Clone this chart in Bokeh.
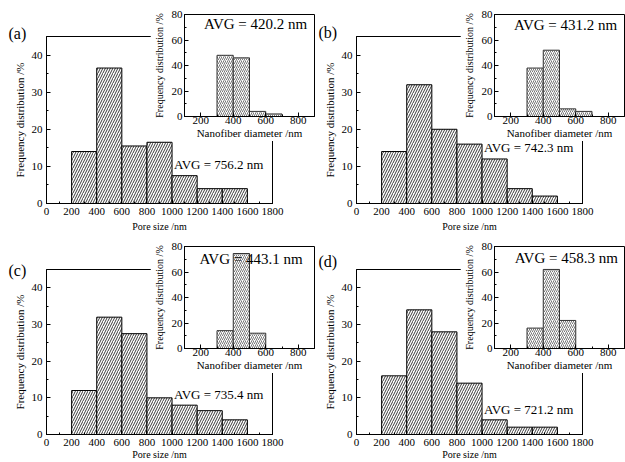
from bokeh.plotting import figure
from bokeh.models import Range1d, Label, GridBox, SingleIntervalTicker
from bokeh.embed import file_html
from bokeh.resources import INLINE

# ---------------- data ----------------
pore_left = [200, 400, 600, 800, 1000, 1200, 1400]
pore_right = [400, 600, 800, 1000, 1200, 1400, 1600]
pore_a = [14, 36.5, 15.5, 16.5, 7.5, 4, 4]
pore_b = [14, 32, 20, 16, 12, 4, 2]
pore_c = [12, 32, 27.5, 10, 8, 6.5, 4]
pore_d = [16, 34, 28, 14, 4, 2, 2]

fiber_left = [300, 400, 500, 600]
fiber_right = [400, 500, 600, 700]
fiber_a = [48, 46, 4, 2]
fiber_b = [38, 52, 6, 4]
fiber_c = [14, 74.5, 12, 0]
fiber_d = [16, 62, 22, 0]

avg_pore = [756.2, 742.3, 735.4, 721.2]
avg_fiber = [420.2, 431.2, 443.1, 458.3]
panel_tags = ["(a)", "(b)", "(c)", "(d)"]

pore_title = "Pore size /nm"
fiber_title = "Nanofiber diameter /nm"
freq_title = "Frequency distribution /%"

FONT = "Liberation Serif"


def style_axes(p, xint, yint, label_px, standoff):
    for ax in (p.xaxis[0], p.yaxis[0]):
        ax.major_tick_in = 4
        ax.major_tick_out = 0
        ax.minor_tick_in = 2
        ax.minor_tick_out = 0
        ax.axis_line_color = "black"
        ax.major_tick_line_color = "black"
        ax.minor_tick_line_color = "black"
        ax.major_label_text_font = FONT
        ax.major_label_text_font_size = label_px
        ax.major_label_text_color = "black"
        ax.major_label_standoff = standoff
        ax.axis_label_text_font = FONT
        ax.axis_label_text_font_style = "normal"
        ax.axis_label_text_color = "black"
    p.xaxis[0].ticker = SingleIntervalTicker(interval=xint, num_minor_ticks=2)
    p.yaxis[0].ticker = SingleIntervalTicker(interval=yint, num_minor_ticks=2)
    p.grid.visible = False
    p.outline_line_color = "black"
    p.outline_line_alpha = 1
    p.outline_line_width = 1
    p.background_fill_color = "white"
    p.border_fill_color = "white"


def main_panel(heights, avg, tag, tag_standoff, avg_y, height, bottom, title_standoff):
    p = figure(width=280, height=height, x_range=Range1d(0, 1800), y_range=Range1d(0, 45),
               output_backend="svg", toolbar_location=None, frame_align=False,
               min_border_left=38, min_border_right=16, min_border_top=28,
               min_border_bottom=bottom)
    p.quad(left=pore_left, right=pore_right, bottom=0, top=heights,
           fill_color="white", line_color="black", line_width=1,
           hatch_pattern="/", hatch_scale=5, hatch_weight=0.9, hatch_color="#222222")
    style_axes(p, 200, 10, "11px", 4)
    p.yaxis[0].axis_label = freq_title
    p.yaxis[0].axis_label_text_font_size = "11px"
    p.yaxis[0].axis_label_standoff = 3
    p.xaxis[0].axis_label = pore_title
    p.xaxis[0].axis_label_text_font_size = "10px"
    p.xaxis[0].axis_label_standoff = title_standoff
    p.title.text = tag
    p.title.align = "left"
    p.title.offset = -38
    p.title.standoff = tag_standoff
    p.title.text_font = FONT
    p.title.text_font_size = "16px"
    p.title.text_font_style = "normal"
    p.title.text_color = "black"
    p.add_layout(Label(x=1015, y=avg_y, text=f"AVG = {avg} nm", text_align="left",
                       text_baseline="middle", text_font=FONT, text_font_size="13px",
                       text_color="black"))
    return p


def inset_panel(heights, avg, avg_x, avg_y):
    q = figure(width=165, height=133, x_range=Range1d(100, 900), y_range=Range1d(0, 80),
               title=None, output_backend="svg", toolbar_location=None, frame_align=False,
               min_border_left=29, min_border_right=1, min_border_top=6,
               min_border_bottom=25)
    q.quad(left=fiber_left, right=fiber_right, bottom=0, top=heights,
           fill_color="white", line_color="#333333", line_width=1,
           hatch_pattern="/", hatch_scale=4, hatch_weight=0.8, hatch_color="#555555")
    style_axes(q, 200, 20, "11px", 2)
    q.xaxis[0].major_label_standoff = 0
    q.yaxis[0].axis_label = freq_title
    q.yaxis[0].axis_label_text_font_size = "10px"
    q.yaxis[0].axis_label_standoff = 4
    q.xaxis[0].axis_label = fiber_title
    q.xaxis[0].axis_label_text_font_size = "11px"
    q.xaxis[0].axis_label_standoff = 0
    q.add_layout(Label(x=avg_x, y=avg_y, text=f"AVG = {avg} nm", text_align="left",
                       text_baseline="middle", text_font=FONT, text_font_size="15px",
                       text_color="black"))
    return q


mains = [
    main_panel(pore_a, avg_pore[0], panel_tags[0], -10, 10.5, 227, 32, 3),
    main_panel(pore_b, avg_pore[1], panel_tags[1], -9, 15.2, 227, 32, 3),
    main_panel(pore_c, avg_pore[2], panel_tags[2], -18, 11.0, 221, 26, 0),
    main_panel(pore_d, avg_pore[3], panel_tags[3], 0, 6.7, 221, 26, 0),
]
insets = [
    inset_panel(fiber_a, avg_fiber[0], 220, 72.5),
    inset_panel(fiber_b, avg_fiber[1], 220, 71.5),
    inset_panel(fiber_c, avg_fiber[2], 192, 70.0),
    inset_panel(fiber_d, avg_fiber[3], 224, 71.0),
]

# placement of each canvas on the page (x, y) in pixels
main_pos = [(8, 8), (318, 8), (8, 241), (318, 241)]
inset_pos = [(150, 8), (460, 8), (150, 240), (460, 240)]

items = []
for f, (x, y) in zip(mains, main_pos):
    items.append((f, x, y, f.width, f.height))
for f, (x, y) in zip(insets, inset_pos):
    items.append((f, x, y, f.width, f.height))

xs = sorted({0} | {v for _, x, _, w, _ in items for v in (x, x + w)})
ys = sorted({0} | {v for _, _, y, _, h in items for v in (y, y + h)})
cols = [f"{b - a}px" for a, b in zip(xs, xs[1:])]
rows = [f"{b - a}px" for a, b in zip(ys, ys[1:])]
children = []
for f, x, y, w, h in items:
    r0, c0 = ys.index(y), xs.index(x)
    children.append((f, r0, c0, ys.index(y + h) - r0, xs.index(x + w) - c0))

grid = GridBox(children=children, rows=rows, cols=cols, spacing=0)

open("out.html", "w").write(file_html(grid, INLINE))
